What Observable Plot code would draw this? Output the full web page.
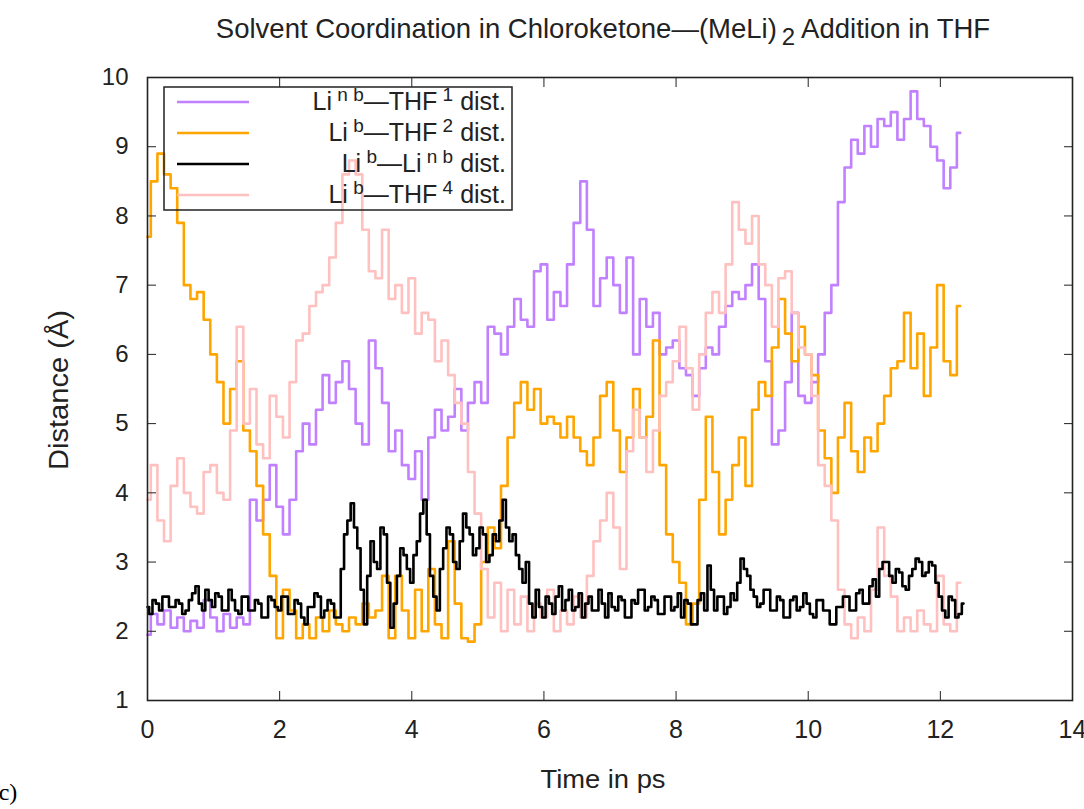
<!DOCTYPE html>
<html><head><meta charset="utf-8">
<script src="https://cdn.jsdelivr.net/npm/d3@7"></script>
<script src="https://cdn.jsdelivr.net/npm/@observablehq/plot@0.6"></script>
<style>body{margin:0;background:#fff} svg{display:block}</style>
</head><body><div id="chart"></div>
<script>
// ---- data ----
const seriesNames = ["LinbTHF1", "LibTHF2", "LibLinb", "LibTHF4"];
const seriesColors = ["#c080ff", "#ffa500", "#000000", "#ffc0c0"];
const timeSteps = [0.1, 0.1, 0.05, 0.1]; // ps between samples, first sample at t = 0
const purpleLinbTHF1 = [
 1.95,2.25,2.1,2.3,2.05,2.2,2.0,2.15,2.05,2.45,
 2.2,2.0,2.25,2.05,2.2,2.1,3.9,3.6,3.9,4.4,
 3.8,3.4,3.9,4.6,5.0,4.7,5.2,5.7,5.3,5.6,
 5.9,5.5,5.0,4.7,6.2,5.8,5.3,4.6,4.9,4.4,
 4.2,4.6,3.9,4.8,5.2,4.9,5.1,5.5,4.9,5.3,
 5.6,5.3,6.4,6.3,6.0,6.4,6.8,6.5,6.4,7.2,
 7.3,6.5,6.9,6.7,7.3,7.9,8.5,7.8,6.7,7.1,
 7.4,7.0,6.6,7.4,6.0,6.8,6.4,6.6,6.0,6.1,
 6.2,5.8,5.7,5.4,5.8,6.1,6.0,6.4,6.7,6.9,
 6.8,7.0,7.3,6.8,5.9,4.7,4.9,5.6,6.6,5.4,
 5.3,5.6,6.0,6.6,7.0,8.2,8.7,9.1,8.9,9.3,
 9.0,9.4,9.3,9.5,9.1,9.4,9.8,9.4,9.3,9.0,
 8.8,8.4,8.7,9.2];
const orangeLibTHF2 = [
 7.7,8.5,8.9,8.6,8.4,7.9,7.0,6.8,6.9,6.5,
 6.0,5.6,5.0,5.5,5.9,4.9,4.6,4.1,3.4,2.8,
 1.9,2.6,2.3,1.9,2.1,1.9,2.2,2.0,2.3,2.1,
 2.0,2.2,2.1,2.4,2.2,2.3,2.8,1.9,2.8,2.3,
 1.9,2.6,2.0,2.9,2.1,1.9,3.3,2.4,1.9,1.85,
 2.1,3.0,3.5,3.2,4.1,4.8,5.3,5.6,5.2,5.5,
 5.0,5.1,5.0,4.8,5.1,4.8,4.6,4.4,4.8,5.4,
 5.6,4.9,4.3,4.8,5.5,4.8,5.1,6.2,4.4,3.4,
 3.0,2.7,2.1,2.4,3.9,5.1,4.3,3.4,3.9,4.4,
 4.8,4.1,5.2,5.6,5.4,6.1,6.8,6.3,5.9,6.4,
 6.0,5.7,4.9,4.5,4.0,4.8,5.3,4.6,4.3,4.8,
 4.6,5.0,5.4,5.8,5.9,6.6,5.8,6.3,5.4,6.1,
 7.0,5.9,5.7,6.7];
const blackLibLinb = [
 2.35,2.25,2.45,2.4,2.3,2.5,2.5,2.35,2.35,2.45,2.4,2.25,2.3,2.45,2.55,2.65,2.4,2.3,2.6,2.45,
 2.35,2.55,2.5,2.3,2.3,2.6,2.45,2.3,2.25,2.5,2.5,2.3,2.3,2.45,2.4,2.2,2.2,2.5,2.45,2.35,
 2.3,2.5,2.5,2.25,2.25,2.45,2.4,2.2,2.1,2.35,2.35,2.55,2.5,2.2,2.3,2.45,2.4,2.2,2.2,2.9,
 3.4,3.6,3.85,3.5,3.2,2.6,2.1,2.8,3.3,3.0,2.9,3.5,3.4,2.7,2.05,2.4,2.8,3.2,3.1,2.9,
 2.7,3.1,3.3,3.7,3.9,3.4,2.8,2.5,2.3,2.9,3.2,3.5,3.4,3.0,2.9,3.3,3.7,3.5,3.4,3.1,
 3.2,3.5,3.4,3.0,3.1,3.4,3.3,3.6,3.9,3.5,3.3,3.4,3.1,2.9,2.7,3.0,2.4,2.2,2.6,2.35,
 2.2,2.5,2.4,2.25,2.5,2.65,2.3,2.45,2.6,2.3,2.35,2.55,2.2,2.4,2.5,2.3,2.3,2.6,2.4,2.2,
 2.55,2.35,2.3,2.5,2.45,2.2,2.2,2.45,2.4,2.6,2.6,2.3,2.35,2.5,2.45,2.25,2.25,2.5,2.5,2.3,
 2.35,2.55,2.2,2.45,2.4,2.1,2.1,2.45,2.55,2.3,2.95,2.6,2.3,2.5,2.5,2.25,2.35,2.55,2.45,2.7,
 3.05,2.9,2.8,2.6,2.5,2.35,2.4,2.6,2.6,2.3,2.3,2.5,2.45,2.2,2.2,2.45,2.5,2.3,2.35,2.55,
 2.4,2.25,2.2,2.45,2.45,2.3,2.3,2.1,2.1,2.35,2.35,2.5,2.5,2.3,2.3,2.55,2.6,2.4,2.4,2.65,
 2.75,2.5,2.9,3.0,3.0,2.8,2.7,2.9,2.85,2.65,2.6,2.8,2.9,3.05,3.0,2.8,2.85,3.0,2.95,2.7,
 2.5,2.3,2.2,2.5,2.45,2.2,2.25,2.4];
const pinkLibTHF4 = [
 3.9,4.4,3.6,3.3,4.1,4.5,4.0,3.8,3.7,4.3,
 4.4,4.0,3.9,4.9,6.4,5.0,5.5,4.7,4.5,5.4,
 5.1,4.8,5.6,6.2,6.3,6.7,6.9,7.0,7.4,7.9,
 8.6,8.8,8.6,7.8,7.2,7.1,7.8,6.8,7.0,6.6,
 7.1,6.3,6.6,6.5,5.9,6.2,5.7,5.3,5.0,4.3,
 3.7,2.9,2.2,2.7,2.0,2.6,2.1,2.5,2.0,2.4,
 2.2,2.6,2.0,2.3,2.1,2.5,2.2,2.8,3.3,3.6,
 4.0,3.5,2.9,4.6,5.2,4.8,4.3,4.9,5.4,5.6,
 5.9,6.4,5.8,5.2,6.0,6.6,6.9,6.6,7.3,8.2,
 7.8,7.6,8.0,7.3,7.0,6.4,7.1,7.2,6.6,6.1,
 6.0,5.4,4.4,4.1,3.6,2.6,2.1,1.9,2.2,2.0,
 2.6,3.5,2.8,2.5,2.0,2.2,2.0,2.3,2.1,2.0,
 2.8,2.1,2.0,2.7];
const xTicks = [0, 2, 4, 6, 8, 10, 12, 14];
const yTicks = [1, 2, 3, 4, 5, 6, 7, 8, 9, 10];
const titleMain = "Solvent Coordination in Chloroketone\u2014(MeLi)";
const titleSub = "2";
const titleTail = "Addition in THF";
const xLabel = "Time in ps";
const yLabel = "Distance (\u00c5)";
const panelTag = "c)";
// legend labels: [text, superscript] pairs
const legendParts = [
  [["Li",""],["","n b"],["\u2014THF",""],["","1"],[" dist.",""]],
  [["Li",""],["","b"],["\u2014THF",""],["","2"],[" dist.",""]],
  [["Li",""],["","b"],["\u2014Li",""],["","n b"],[" dist.",""]],
  [["Li",""],["","b"],["\u2014THF",""],["","4"],[" dist.",""]]
];

// ---- table ----
const allSeries = [purpleLinbTHF1, orangeLibTHF2, blackLibLinb, pinkLibTHF4];
const drawOrder = [0, 1, 3, 2];
const data = [];
for (const si of drawOrder) {
  allSeries[si].forEach((v, i) => data.push({t: +(i * timeSteps[si]).toFixed(3), v, series: seriesNames[si]}));
}

const W = 1084, H = 809;
const mL = 147, mR = 12, mT = 77, mB = 109;
const sans = "'Liberation Sans', Arial, sans-serif";

const chart = Plot.plot({
  width: W, height: H,
  marginLeft: mL, marginRight: mR, marginTop: mT, marginBottom: mB,
  style: {background: "#fff", fontFamily: sans, color: "#222", overflow: "visible"},
  x: {domain: [0, 14]},
  y: {domain: [1, 10]},
  color: {domain: seriesNames, range: seriesColors},
  marks: [
    Plot.lineY(data, {x: "t", y: "v", z: "series", stroke: "series", curve: "step", strokeWidth: 2.6}),
    Plot.frame({stroke: "#222", strokeWidth: 1.6}),
    Plot.axisX(xTicks, {anchor: "bottom", tickSize: -9, tickPadding: 29, fontSize: 25, tickFormat: d => String(d), label: null, stroke: "#222"}),
    Plot.axisX(xTicks, {anchor: "top", tickSize: -9, tickFormat: () => "", label: null, stroke: "#222"}),
    Plot.axisY(yTicks, {anchor: "left", tickSize: -9, tickPadding: 28, fontSize: 24, tickFormat: d => String(d), label: null, stroke: "#222"}),
    Plot.axisY(yTicks, {anchor: "right", tickSize: -9, tickFormat: () => "", label: null, stroke: "#222"})
  ]
});
document.getElementById("chart").appendChild(chart);

const svg = d3.select(chart);
// title
const tt = svg.append("text").attr("x", 603).attr("y", 38).attr("text-anchor", "middle")
  .attr("font-family", sans).attr("font-size", 27.5).attr("fill", "#222");
tt.append("tspan").text(titleMain);
tt.append("tspan").attr("dy", 7).attr("font-size", 24).text("\u2009" + titleSub);
tt.append("tspan").attr("dy", -7).text(" " + titleTail);
// axis labels
svg.append("text").attr("x", 603).attr("y", 788).attr("text-anchor", "middle")
  .attr("font-family", sans).attr("font-size", 26).attr("fill", "#222")
  .attr("textLength", 125).attr("lengthAdjust", "spacingAndGlyphs").text(xLabel);
svg.append("text").attr("transform", "translate(68,390) rotate(-90)").attr("text-anchor", "middle")
  .attr("font-family", sans).attr("font-size", 27).attr("fill", "#222")
  .attr("textLength", 160).attr("lengthAdjust", "spacingAndGlyphs").text(yLabel);
// panel tag
svg.append("text").attr("x", 8).attr("y", 800).attr("font-family", "'Liberation Serif', 'Times New Roman', serif")
  .attr("font-size", 24).attr("fill", "#000").text(panelTag);
// legend
const lg = svg.append("g");
lg.append("rect").attr("x", 164).attr("y", 87).attr("width", 348).attr("height", 123)
  .attr("fill", "none").attr("stroke", "#222").attr("stroke-width", 1.5);
legendParts.forEach((parts, i) => {
  const y = 102 + i * 31;
  lg.append("line").attr("x1", 177).attr("x2", 249).attr("y1", y).attr("y2", y)
    .attr("stroke", seriesColors[i]).attr("stroke-width", 2.6);
  const tx = lg.append("text").attr("x", 506).attr("y", y + 8).attr("text-anchor", "end")
    .attr("font-family", sans).attr("font-size", 25).attr("fill", "#222");
  let raised = false;
  parts.forEach(([txt, sup]) => {
    if (sup) {
      tx.append("tspan").attr("dy", raised ? 0 : -9).attr("font-size", 19).text(" " + sup);
      raised = true;
    } else {
      tx.append("tspan").attr("dy", raised ? 9 : 0).text(txt);
      raised = false;
    }
  });
});
</script>
</body></html>
